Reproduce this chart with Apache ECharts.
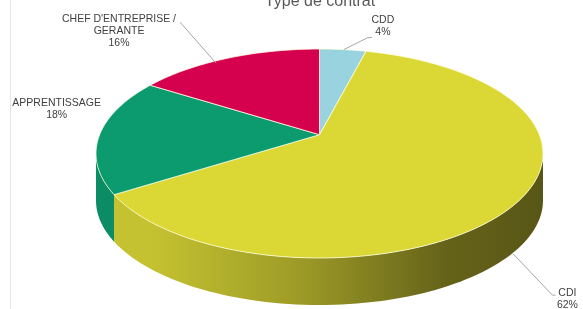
<!DOCTYPE html>
<html><head><meta charset="utf-8">
<script src="https://cdn.jsdelivr.net/npm/echarts@6/dist/echarts.min.js"></script>
<style>html,body{margin:0;padding:0;background:#fff}#c{width:583px;height:309px}</style>
</head><body><div id="c"></div>
<script>
// ---- data ----
const title = 'Type de contrat';
const categories = ['CDD', 'CDI', 'APPRENTISSAGE', "CHEF D'ENTREPRISE /\nGERANTE"];
const values = [4, 62, 18, 16];
const colors = ['#98d3df', '#dbd836', '#0c9b6f', '#d5014f'];

// ---- layout (pseudo-3D perspective pie) ----
const G = { cx: 319.5, yc: 153.5, A: 223.5, B: 104.5, depth: 47, p: 0.18 };
const labelLayout = [
  { dx: 40, dy: -23, line: [[1, 0], [25, -12], [29, -12]] },
  { dx: 49, dy: 51, line: [[-5, 6], [34, 47], [37, 47]] },
  { dx: -43, dy: -26, line: null },
  { dx: -109, dy: -27, line: [[-12, 5], [-48, -36]] }
];

const total = values.reduce((a, b) => a + b, 0);
const k = Math.sqrt((1 - G.p) / (1 + G.p));
const y0 = G.yc - G.B * G.p; // projected pie centre
function phiOf(theta) { return 2 * Math.atan2(k * Math.sin(theta / 2), Math.cos(theta / 2)); }
function rim(phi) { return [G.cx + G.A * Math.sin(phi), G.yc - G.B * Math.cos(phi)]; }
function shade(hex, f) {
  const n = parseInt(hex.slice(1), 16);
  const r = Math.round(((n >> 16) & 255) * f), g = Math.round(((n >> 8) & 255) * f), b = Math.round((n & 255) * f);
  return 'rgb(' + r + ',' + g + ',' + b + ')';
}
const starts = [];
{ let acc = 0; values.forEach(v => { starts.push(acc); acc += v; }); }

function renderItem(params, api) {
  const i = params.dataIndex;
  const v = api.value(0);
  const t0 = starts[i] / total * 2 * Math.PI;
  const t1 = (starts[i] + v) / total * 2 * Math.PI;
  const pa = phiOf(t0), pb = phiOf(t1);
  const children = [];
  // wall (front half only)
  const wa = Math.max(pa, Math.PI / 2), wb = Math.min(pb, 3 * Math.PI / 2);
  if (wb > wa) {
    const n = 80, top = [], bot = [];
    for (let j = 0; j <= n; j++) {
      const q = rim(wa + (wb - wa) * j / n);
      top.push(q); bot.push([q[0], q[1] + G.depth]);
    }
    const x0 = G.cx - G.A, x1 = G.cx + G.A;
    children.push({
      type: 'polygon', z2: 1,
      shape: { points: top.concat(bot.reverse()) },
      style: {
        fill: { type: 'linear', x: x0, y: 0, x2: x1, y2: 0, global: true,
          colorStops: [
            { offset: 0, color: shade(colors[i], 0.9) },
            { offset: 0.12, color: shade(colors[i], 0.9) },
            { offset: 0.45, color: shade(colors[i], 0.72) },
            { offset: 0.78, color: shade(colors[i], 0.46) },
            { offset: 1, color: shade(colors[i], 0.4) }
          ] },
        stroke: null
      }
    });
  }
  // top face
  const pts = [[G.cx, y0]];
  const n2 = Math.max(8, Math.ceil((pb - pa) * 60));
  for (let j = 0; j <= n2; j++) pts.push(rim(pa + (pb - pa) * j / n2));
  children.push({
    type: 'polygon', z2: 2,
    shape: { points: pts },
    style: { fill: colors[i], stroke: 'rgba(255,255,225,0.85)', lineWidth: 0.9, lineJoin: 'round' }
  });
  // label
  const pm = phiOf((t0 + t1) / 2);
  const a = rim(pm);
  if (Math.cos(pm) < 0) a[1] += G.depth;
  const L = labelLayout[i];
  if (L.line) {
    children.push({
      type: 'polyline', z2: 3,
      shape: { points: L.line.map(o => [a[0] + o[0], a[1] + o[1]]) },
      style: { stroke: '#a6a6a6', lineWidth: 1, fill: null }
    });
  }
  children.push({
    type: 'text', z2: 4,
    style: {
      text: categories[i] + '\n' + Math.round(v / total * 100) + '%',
      x: a[0] + L.dx, y: a[1] + L.dy,
      align: 'center', verticalAlign: 'middle',
      fontFamily: 'Liberation Sans, Arial, sans-serif', fontSize: 10.5, lineHeight: 12,
      fill: '#404040'
    }
  });
  return { type: 'group', children: children };
}

const chart = echarts.init(document.getElementById('c'), null, { renderer: 'canvas' });
chart.setOption({
  animation: false,
  backgroundColor: '#ffffff',
  graphic: [
    { type: 'line', shape: { x1: 10.5, y1: 0, x2: 10.5, y2: 309 }, style: { stroke: '#e4e4e4', lineWidth: 1 } },
    { type: 'text', style: { text: title, x: 320, y: 9.5, align: 'center', verticalAlign: 'bottom',
        fontFamily: 'Liberation Sans, Arial, sans-serif', fontSize: 16, fill: '#595959' } }
  ],
  series: [{
    type: 'custom',
    coordinateSystem: 'none',
    renderItem: renderItem,
    data: values.map(v => [v])
  }]
});
</script>
</body></html>
